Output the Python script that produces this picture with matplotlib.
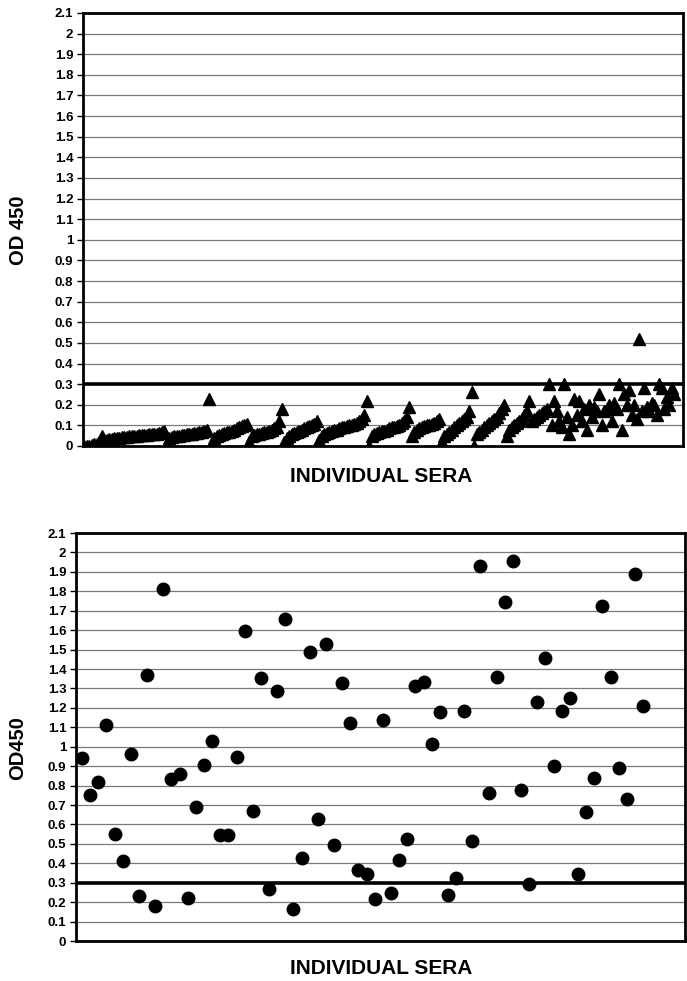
import matplotlib
matplotlib.use("Agg")
import matplotlib.pyplot as plt
import numpy as np

plt.rcParams['font.family'] = ['Liberation Sans', 'DejaVu Sans']
plt.rcParams['font.weight'] = 'bold'

# top panel: sera sorted in batches (OD 450)
batch1 = [0.0, 0.0, 0.0, 0.005, 0.01, 0.01, 0.02]
batch2 = [0.05, 0.03, 0.03, 0.035, 0.035, 0.04, 0.04, 0.04, 0.045, 0.045, 0.045, 0.05, 0.05,
          0.05, 0.05, 0.055, 0.055, 0.055, 0.055, 0.06, 0.06, 0.06, 0.06, 0.065, 0.07, 0.075]
batch3 = [0.0, 0.04, 0.045, 0.05, 0.05, 0.05, 0.055, 0.055, 0.06, 0.06, 0.06, 0.065, 0.065,
          0.07, 0.07, 0.075, 0.08, 0.23]
batch4 = [0.01, 0.04, 0.05, 0.055, 0.06, 0.065, 0.07, 0.07, 0.075, 0.08, 0.085, 0.09, 0.095,
          0.10, 0.105]
batch5 = [0.02, 0.05, 0.055, 0.06, 0.06, 0.065, 0.07, 0.07, 0.075, 0.08, 0.085, 0.09, 0.12, 0.18]
batch6 = [0.02, 0.04, 0.05, 0.06, 0.065, 0.07, 0.075, 0.08, 0.085, 0.09, 0.095, 0.10, 0.105, 0.12]
batch7 = [0.03, 0.05, 0.06, 0.065, 0.07, 0.075, 0.08, 0.08, 0.085, 0.09, 0.09, 0.095, 0.10,
          0.10, 0.105, 0.11, 0.12, 0.13, 0.15, 0.22]
batch8 = [0.0, 0.05, 0.06, 0.065, 0.07, 0.075, 0.075, 0.08, 0.085, 0.09, 0.09, 0.095, 0.10,
          0.11, 0.12, 0.14, 0.19]
batch9 = [0.05, 0.07, 0.08, 0.085, 0.09, 0.095, 0.10, 0.10, 0.105, 0.11, 0.12, 0.13]
batch10 = [0.02, 0.05, 0.06, 0.07, 0.08, 0.09, 0.10, 0.11, 0.12, 0.13, 0.14, 0.17, 0.26]
batch11 = [0.0, 0.06, 0.07, 0.08, 0.09, 0.10, 0.11, 0.12, 0.13, 0.14, 0.16, 0.18, 0.20]
batch12 = [0.05, 0.08, 0.09, 0.10, 0.11, 0.12, 0.13, 0.15, 0.17, 0.22, 0.12, 0.13, 0.14, 0.15,
           0.16, 0.17, 0.18]
batch13 = [0.30, 0.10, 0.22, 0.17, 0.12, 0.09, 0.30, 0.14, 0.06, 0.10, 0.23, 0.15, 0.22, 0.12,
           0.18, 0.08, 0.20, 0.14, 0.19, 0.17, 0.25, 0.10, 0.17, 0.18, 0.20, 0.12, 0.21, 0.18,
           0.30, 0.08, 0.25, 0.20, 0.27, 0.15, 0.20, 0.13, 0.52, 0.17, 0.28, 0.19, 0.17, 0.21,
           0.20, 0.15, 0.30, 0.28, 0.18, 0.24, 0.20, 0.28, 0.25]

# bottom panel: individual sera (OD450)
sera_od = [0.94, 0.75, 0.82, 1.11, 0.55, 0.41, 0.96, 0.23, 1.37, 0.18,
           1.81, 0.835, 0.857, 0.22, 0.69, 0.905, 1.03, 0.547, 0.547, 0.946,
           1.597, 0.667, 1.356, 0.266, 1.288, 1.656, 0.167, 0.427, 1.487, 0.626,
           1.528, 0.496, 1.328, 1.122, 0.367, 0.347, 0.215, 1.137, 0.245, 0.417,
           0.527, 1.313, 1.335, 1.015, 1.177, 0.237, 0.326, 1.185, 0.514, 1.93,
           0.763, 1.36, 1.746, 1.956, 0.775, 0.292, 1.23, 1.458, 0.902, 1.185,
           1.25, 0.343, 0.662, 0.84, 1.723, 1.36, 0.888, 0.729, 1.89, 1.21]

cutoff = 0.3
yticks = [round(0.1 * i, 1) for i in range(22)]
ytick_labels = ['%g' % v for v in yticks]

top_od = np.array(batch1 + batch2 + batch3 + batch4 + batch5 + batch6 + batch7 +
                  batch8 + batch9 + batch10 + batch11 + batch12 + batch13)

fig = plt.figure(figsize=(6.87, 9.81), dpi=100)
W, H = 687.0, 981.0


def style(ax):
    ax.set_ylim(0, 2.1)
    ax.set_yticks(yticks)
    ax.set_yticklabels(ytick_labels, fontsize=9.5, fontweight='bold')
    ax.set_xticks([])
    ax.tick_params(axis='y', length=4, width=1, pad=3, direction='out')
    for y in yticks[1:]:
        ax.axhline(y, color='#7a7a7a', lw=0.9, zorder=1)
    ax.axhline(cutoff, color='black', lw=2.6, zorder=2)
    for s in ax.spines.values():
        s.set_linewidth(2)
        s.set_zorder(5)


ax1 = fig.add_axes([83 / W, 1 - 446 / H, 600 / W, 433 / H])
style(ax1)
ax1.plot(np.arange(len(top_od)), top_od, '^', color='black', ms=9, mec='black', zorder=3)
ax1.set_xlim(-0.5, 239.5)

ax2 = fig.add_axes([76 / W, 1 - 941 / H, 609 / W, 408 / H])
style(ax2)
ax2.plot(np.arange(1, len(sera_od) + 1), sera_od, 'o', color='black', ms=9, zorder=3)
ax2.set_xlim(0.26, 75.16)

fig.text(18 / W, 1 - 230 / H, 'OD 450', rotation=90, ha='center', va='center',
         fontsize=14.5, fontweight='bold')
fig.text(381 / W, 1 - 477 / H, 'INDIVIDUAL SERA', ha='center', va='center',
         fontsize=15, fontweight='bold')
fig.text(18 / W, 1 - 748 / H, 'OD450', rotation=90, ha='center', va='center',
         fontsize=14.5, fontweight='bold')
fig.text(381 / W, 1 - 968 / H, 'INDIVIDUAL SERA', ha='center', va='center',
         fontsize=15, fontweight='bold')

fig.savefig('out.png', dpi=100)
